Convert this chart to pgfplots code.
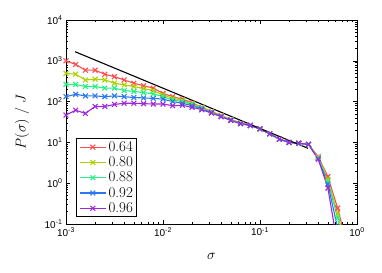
\documentclass[border=0pt]{standalone}
\usepackage{pgfplots}
\pgfplotsset{compat=1.18}
\usepackage{fontspec}
\newfontfamily\arial{Liberation Sans}
\definecolor{c1}{RGB}{255,77,77}
\definecolor{c2}{RGB}{170,210,0}
\definecolor{c3}{RGB}{40,240,130}
\definecolor{c4}{RGB}{40,120,240}
\definecolor{c5}{RGB}{160,40,220}
\begin{document}
\begin{tikzpicture}
\useasboundingbox (-66bp,-49bp) rectangle (316bp,224bp);
\begin{axis}[
  at={(0,0)}, anchor=south west,
  scale only axis, width=291bp, height=204bp,
  xmode=log, ymode=log,
  xmin=1e-3, xmax=1, ymin=1e-1, ymax=1e4,
  xtick={0.001,0.01,0.1,1},
  xticklabels={10\textsuperscript{-3},10\textsuperscript{-2},10\textsuperscript{-1},10\textsuperscript{0}},
  ytick={0.1,1,10,100,1000,10000},
  yticklabels={10\textsuperscript{-1},10\textsuperscript{0},10\textsuperscript{1},10\textsuperscript{2},10\textsuperscript{3},10\textsuperscript{4}},
  ticklabel style={font=\arial\fontsize{10}{11}\selectfont},
  tick align=inside, major tick length=4bp, minor tick length=2bp,
  every tick/.style={black, line width=0.5pt},
  axis line style={line width=0.8pt},
  xlabel={$\sigma$}, ylabel={$P(\sigma)\;/\;J$},
  label style={font=\fontsize{15}{17}\selectfont},
  xlabel style={at={(axis description cs:0.5,-0.157)}, anchor=center},
  ylabel style={at={(axis description cs:-0.151,0.5)}, anchor=center},
  clip=true,
  every axis plot/.append style={line width=1.1pt, mark=x, mark size=3.4bp, mark options={solid}},
  legend style={at={(axis description cs:0.034,0.034)}, anchor=south west,
    draw=black, line width=0.8pt, fill=white, inner xsep=3bp, inner ysep=2bp,
    font=\fontsize{15}{17}\selectfont, row sep=2.5bp,
    nodes={inner sep=0.7bp}},
  legend cell align=left,
  legend image code/.code={\draw[mark repeat=2,mark phase=2,line width=1.1pt] plot coordinates {(0bp,0bp)(13bp,0bp)(26bp,0bp)};},
]
\addplot[c1] coordinates {
(0.001,1000)(0.001259,813)(0.001585,589)(0.001995,589)(0.002512,468)(0.003162,407)
(0.003981,339)(0.005012,282)(0.00631,245)(0.007943,214)(0.01,158)(0.01259,132)
(0.01585,115)(0.01995,93.3)(0.02512,72.4)(0.03162,57.5)(0.03981,45.7)(0.05012,36.3)
(0.0631,30.2)(0.07943,26.3)(0.1,21.4)(0.1259,16.2)(0.1585,12.0)(0.1995,10.0)
(0.2512,9.55)(0.3162,8.91)(0.3981,4.47)(0.5012,1.45)(0.631,0.245)(0.7943,0.03)};
\addlegendentry{\hspace{1.5bp}0.64\hspace{6bp}}
\addplot[c2] coordinates {
(0.001,490)(0.001259,468)(0.001585,339)(0.001995,355)(0.002512,339)(0.003162,282)
(0.003981,257)(0.005012,234)(0.00631,209)(0.007943,186)(0.01,145)(0.01259,120)
(0.01585,107)(0.01995,89.1)(0.02512,70.8)(0.03162,56.2)(0.03981,44.7)(0.05012,35.5)
(0.0631,29.5)(0.07943,25.7)(0.1,21.4)(0.1259,16.2)(0.1585,12.0)(0.1995,10.0)
(0.2512,9.55)(0.3162,8.91)(0.3981,4.27)(0.5012,1.26)(0.631,0.178)(0.7943,0.02)};
\addlegendentry{\hspace{1.5bp}0.80\hspace{6bp}}
\addplot[c3] coordinates {
(0.001,263)(0.001259,263)(0.001585,234)(0.001995,234)(0.002512,214)(0.003162,214)
(0.003981,186)(0.005012,178)(0.00631,166)(0.007943,155)(0.01,132)(0.01259,110)
(0.01585,100)(0.01995,85.1)(0.02512,69.2)(0.03162,55.0)(0.03981,43.7)(0.05012,35.5)
(0.0631,29.5)(0.07943,25.7)(0.1,21.4)(0.1259,16.2)(0.1585,12.0)(0.1995,10.0)
(0.2512,9.55)(0.3162,8.91)(0.3981,4.17)(0.5012,1.12)(0.631,0.141)(0.7943,0.01)};
\addlegendentry{\hspace{1.5bp}0.88\hspace{6bp}}
\addplot[c4] coordinates {
(0.001,132)(0.001259,151)(0.001585,138)(0.001995,138)(0.002512,132)(0.003162,138)
(0.003981,132)(0.005012,126)(0.00631,123)(0.007943,120)(0.01,115)(0.01259,100)
(0.01585,91.2)(0.01995,79.4)(0.02512,66.1)(0.03162,53.7)(0.03981,42.7)(0.05012,34.7)
(0.0631,28.8)(0.07943,25.7)(0.1,21.4)(0.1259,16.2)(0.1585,12.0)(0.1995,10.0)
(0.2512,9.55)(0.3162,8.91)(0.3981,3.98)(0.5012,0.955)(0.631,0.079)(0.7943,0.005)};
\addlegendentry{\hspace{1.5bp}0.92\hspace{6bp}}
\addplot[c5] coordinates {
(0.001,46.8)(0.001259,61.7)(0.001585,51.3)(0.001995,75.9)(0.002512,75.9)(0.003162,85.1)
(0.003981,91.2)(0.005012,91.2)(0.00631,89.1)(0.007943,87.1)(0.01,87.1)(0.01259,79.4)
(0.01585,81.3)(0.01995,72.4)(0.02512,63.1)(0.03162,52.5)(0.03981,42.7)(0.05012,34.7)
(0.0631,28.8)(0.07943,26.3)(0.1,21.4)(0.1259,16.2)(0.1585,12.0)(0.1995,10.0)
(0.2512,9.55)(0.3162,8.91)(0.3981,3.89)(0.5012,0.759)(0.631,0.03)};
\addlegendentry{\hspace{1.5bp}0.96\hspace{6bp}}
\addplot[black, line width=1.1pt, mark=none, forget plot] coordinates {(0.00124,1670)(0.313,7.16)};
\end{axis}
\end{tikzpicture}
\end{document}
